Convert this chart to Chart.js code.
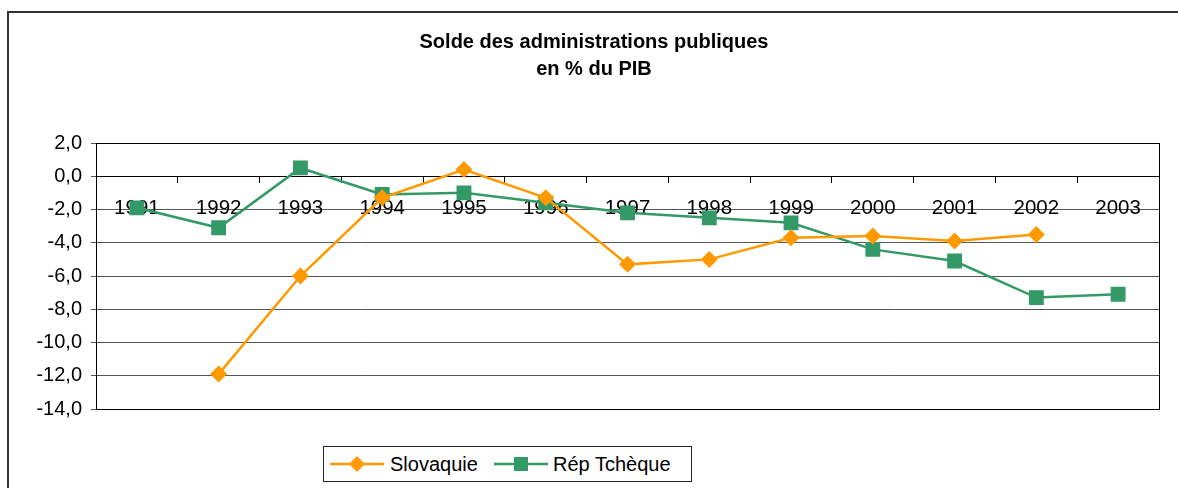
<!DOCTYPE html>
<html>
<head>
<meta charset="utf-8">
<script src="https://cdn.jsdelivr.net/npm/chart.js@4.4.0/dist/chart.umd.min.js"></script>
<style>
  html, body { margin: 0; padding: 0; background: #fff; overflow: hidden; }
  #wrap { position: relative; width: 1178px; height: 488px; font-family: "Liberation Sans", Arial, sans-serif; }
  #frame { position: absolute; left: 7px; top: 11px; width: 1200px; height: 600px; border: 2px solid #333; box-sizing: border-box; }
  #title { position: absolute; left: 10px; width: 1168px; top: 28px; text-align: center; font-weight: bold; font-size: 20px; line-height: 27px; color: #000; }
  #c { position: absolute; left: 0; top: 0; }
  #legend { position: absolute; left: 323px; top: 446px; width: 369px; height: 36px; border: 1px solid #222; box-sizing: border-box; background: #fff; font-size: 20px; color: #000; }
  .item { position: absolute; top: 0; height: 34px; line-height: 34px; white-space: nowrap; }
  .item svg { position: absolute; top: 0; }
  .item span { position: absolute; top: 0; }
</style>
</head>
<body>
<div id="wrap">
  <div id="frame"></div>
  <canvas id="c" width="1178" height="488"></canvas>
  <div id="title">Solde des administrations publiques<br>en % du PIB</div>
  <div id="legend"></div>
</div>
<script>
const years = ["1991","1992","1993","1994","1995","1996","1997","1998","1999","2000","2001","2002","2003"];
const slovaquie = [null, -11.9, -6.0, -1.3, 0.4, -1.3, -5.3, -5.0, -3.7, -3.6, -3.9, -3.5, null];
const repTcheque = [-1.9, -3.1, 0.5, -1.1, -1.0, -1.6, -2.2, -2.5, -2.8, -4.4, -5.1, -7.3, -7.1];
const seriesNames = ["Slovaquie", "Rép Tchèque"];
const yMin = -14, yMax = 2, yStep = 2;

const ORANGE = "#FF9900";
const GREEN = "#339966";

const frameBorder = {
  id: "frameBorder",
  afterDraw(chart) {
    const a = chart.chartArea, ctx = chart.ctx;
    ctx.save();
    ctx.strokeStyle = "#000";
    ctx.lineWidth = 1;
    ctx.strokeRect(Math.round(a.left) + 0.5, Math.round(a.top) + 0.5, Math.round(a.right - a.left), Math.round(a.bottom - a.top));
    ctx.restore();
  }
};

Chart.defaults.font.family = '"Liberation Sans", Arial, sans-serif';
Chart.defaults.color = "#000";

new Chart(document.getElementById("c"), {
  type: "line",
  data: {
    labels: years,
    datasets: [
      {
        label: seriesNames[0], data: slovaquie,
        borderColor: ORANGE, backgroundColor: ORANGE, borderWidth: 2.5,
        pointStyle: "rectRot", pointRadius: 8.5, pointHoverRadius: 8.5,
        pointBorderWidth: 0, tension: 0, spanGaps: false
      },
      {
        label: seriesNames[1], data: repTcheque,
        borderColor: GREEN, backgroundColor: GREEN, borderWidth: 2.5,
        pointStyle: "rect", pointRadius: 10.5, pointHoverRadius: 10.5,
        pointBorderWidth: 0, tension: 0
      }
    ]
  },
  options: {
    responsive: false,
    animation: false,
    events: [],
    layout: { padding: { left: 0, top: 143, right: 19, bottom: 79 } },
    plugins: { legend: { display: false }, title: { display: false }, tooltip: { enabled: false } },
    scales: {
      x: {
        type: "category",
        position: { y: 0 },
        offset: true,
        grid: { offset: true, drawOnChartArea: false, drawTicks: true, tickLength: 6, color: "#000", lineWidth: 1 },
        border: { display: true, color: "#000", width: 1 },
        ticks: { padding: 14, color: "#000", font: { size: 20.5 }, maxRotation: 0, autoSkip: false }
      },
      y: {
        min: yMin, max: yMax,
        afterFit(scale) { scale.width = 96; },
        grid: { color: "#555", lineWidth: 1, tickLength: 5, drawTicks: true },
        border: { display: true, color: "#000", width: 1 },
        ticks: {
          stepSize: yStep, padding: 9, color: "#000", font: { size: 20 },
          callback: v => v.toFixed(1).replace(".", ",")
        }
      }
    }
  },
  plugins: [frameBorder]
});

// HTML legend built from series names
const legend = document.getElementById("legend");
const icons = [
  { color: ORANGE, shape: "diamond", left: 6, textLeft: 66 },
  { color: GREEN, shape: "square", left: 170, textLeft: 229 }
];
seriesNames.forEach((name, i) => {
  const ic = icons[i];
  const item = document.createElement("div");
  item.className = "item";
  item.style.left = ic.left + "px";
  let marker;
  if (ic.shape === "diamond") {
    marker = `<polygon points="27,9 35,17 27,25 19,17" fill="${ic.color}"/>`;
  } else {
    marker = `<rect x="20" y="10" width="14" height="14" fill="${ic.color}"/>`;
  }
  item.innerHTML = `<svg width="56" height="34"><line x1="0" y1="17" x2="54" y2="17" stroke="${ic.color}" stroke-width="2.5"/>${marker}</svg><span style="left:${ic.textLeft - ic.left}px">${name}</span>`;
  legend.appendChild(item);
});
</script>
</body>
</html>
